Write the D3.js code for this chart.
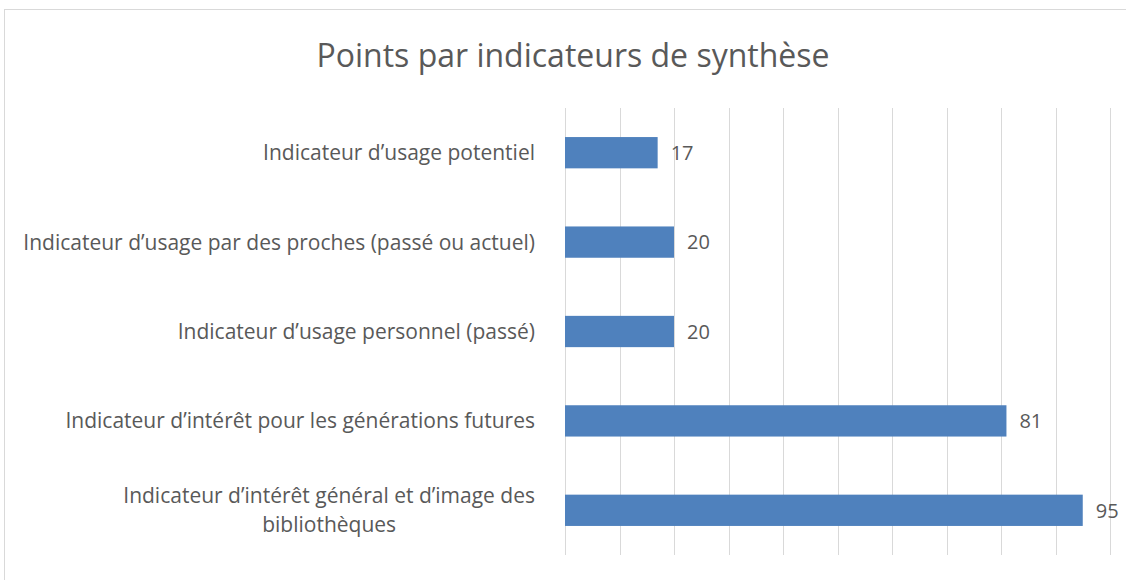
<!DOCTYPE html>
<html>
<head>
<meta charset="utf-8">
<script src="https://cdn.jsdelivr.net/npm/d3@7"></script>
<style>
  body { margin: 0; background: #fff; }
  text { font-family: "Open Sans", "Noto Sans", sans-serif; fill: #595959; }
</style>
</head>
<body>
<div id="container"></div>
<script>
// data (top to bottom)
let categories = [
  "Indicateur d’usage potentiel",
  "Indicateur d’usage par des proches (passé ou actuel)",
  "Indicateur d’usage personnel (passé)",
  "Indicateur d’intérêt pour les générations futures",
  "Indicateur d’intérêt général et d’image des bibliothèques"
];
let values = [17, 20, 20, 81, 95];
let gridTicks = [0, 10, 20, 30, 40, 50, 60, 70, 80, 90, 100];

let w = 1126;
let h = 580;
let plotLeft = 565, plotRight = 1110;   // plot area x
let plotTop = 108, plotBottom = 555;    // plot area y
let labelSize = 21;

let viz = d3.select("#container")
  .append("svg")
    .attr("width", w)
    .attr("height", h);

// chart frame
viz.append("rect")
  .attr("x", 4.5).attr("y", 9.5)
  .attr("width", 1140).attr("height", 600)
  .attr("fill", "none")
  .attr("stroke", "#d9d9d9");

let xScale = d3.scaleLinear().domain([0, 100]).range([plotLeft, plotRight]);
let yScale = d3.scaleBand().domain(categories).range([plotTop, plotBottom]).paddingInner(0.65).paddingOuter(0.325);

// vertical gridlines
viz.selectAll(".grid").data(gridTicks).enter()
  .append("line")
    .attr("x1", d => Math.round(xScale(d)) + 0.5)
    .attr("x2", d => Math.round(xScale(d)) + 0.5)
    .attr("y1", plotTop)
    .attr("y2", plotBottom)
    .attr("stroke", "#d9d9d9")
    .attr("stroke-width", 1);

// bars
viz.selectAll(".bar").data(values).enter()
  .append("rect")
    .attr("x", xScale(0))
    .attr("y", (d, i) => yScale(categories[i]))
    .attr("width", d => xScale(d) - xScale(0))
    .attr("height", yScale.bandwidth())
    .attr("fill", "#4f81bd");

// value labels
viz.selectAll(".val").data(values).enter()
  .append("text")
    .attr("x", d => xScale(d) + 13)
    .attr("y", (d, i) => yScale(categories[i]) + yScale.bandwidth() / 2)
    .attr("dy", "0.36em")
    .attr("font-size", 20)
    .text(d => d);

// category labels; the last one wraps on two centred lines like Excel does
categories.forEach(function(c, i) {
  let cy = yScale(c) + yScale.bandwidth() / 2;
  if (i < categories.length - 1) {
    viz.append("text")
      .attr("x", 535)
      .attr("y", cy)
      .attr("dy", "0.36em")
      .attr("text-anchor", "end")
      .attr("font-size", labelSize)
      .text(c);
  } else {
    let lines = ["Indicateur d’intérêt général et d’image des", "bibliothèques"];
    let first = viz.append("text")
      .attr("x", 535)
      .attr("y", cy - 14.5)
      .attr("dy", "0.36em")
      .attr("text-anchor", "end")
      .attr("font-size", labelSize)
      .text(lines[0]);
    let lw = first.node().getComputedTextLength();
    viz.append("text")
      .attr("x", 535 - lw / 2)
      .attr("y", cy + 14.5)
      .attr("dy", "0.36em")
      .attr("text-anchor", "middle")
      .attr("font-size", labelSize)
      .text(lines[1]);
  }
});

// title
viz.append("text")
  .attr("x", 573)
  .attr("y", 55)
  .attr("dy", "0.36em")
  .attr("text-anchor", "middle")
  .attr("font-size", 32)
  .text("Points par indicateurs de synthèse");
</script>
</body>
</html>
